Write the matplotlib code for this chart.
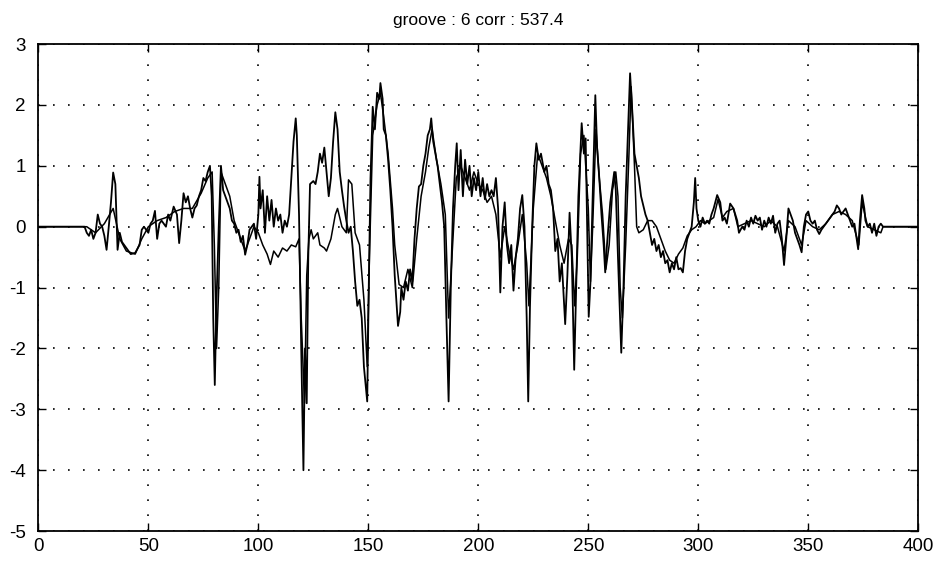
import matplotlib
matplotlib.use("Agg")
import matplotlib.pyplot as plt

# ── Data ───────────────────────────────────────────────────────
groove_x = [0, 21, 22, 23, 24, 25, 26, 27, 28, 29, 30, 31, 32, 33, 34, 35, 36, 37, 38, 40,
            42, 44, 46, 47, 48, 50, 51, 52, 53, 54, 55, 56, 58, 59, 60, 61.5, 63, 64, 65, 66,
            67, 68, 69, 70, 71, 72, 73, 74, 75, 76, 77, 78, 78.8, 79.5, 80.2, 81, 82, 83, 84, 85,
            86, 87, 88, 89, 90, 91, 92, 93, 94, 95, 96, 97, 98, 99, 100, 100.5, 101, 102, 103, 104,
            105, 106, 107, 108, 109, 110, 111, 112, 113, 114, 115, 116, 117, 117.5, 118.5, 119.5, 120.5, 121.2, 122, 122.7,
            123.5, 125, 126, 127, 128, 129, 130, 131, 132, 133, 134, 135, 136, 137, 138, 139, 140, 141, 142, 143,
            144, 145, 146, 147, 148, 149.5, 150.2, 151, 152, 153, 154, 155, 155.5, 156.5, 157, 158, 159, 160, 161, 162,
            163.5, 164.5, 165, 166, 167, 168, 169, 170, 171, 172, 173, 174, 175, 176, 177, 178, 178.6, 179.5, 180.5, 181.5,
            182.5, 183.5, 184.5, 185.5, 186.5, 187.5, 188.5, 189.5, 190.2, 191, 192, 193, 194, 195, 196, 197, 198, 199, 200, 201,
            202, 203, 204, 205, 206, 207, 208, 209, 210, 211, 212, 213, 214, 215, 216, 217, 218, 219, 220, 221,
            222, 222.7, 223.5, 224.5, 225.5, 226.4, 227.5, 228.5, 230, 231, 232, 233, 234, 235, 236, 237, 238, 239.5, 240.5, 241.5,
            242.5, 243.6, 244.5, 245.5, 247, 248, 248.8, 249.5, 250.2, 251, 252, 253.2, 254, 255, 256, 257, 257.7, 258.5, 260, 261.8,
            262.5, 263.5, 265, 266, 267, 268, 269, 270, 271, 272, 273, 274, 275, 276, 277, 278, 279, 280, 281, 282,
            283, 284, 285, 286, 287, 288, 289, 290, 291, 292, 293, 294, 295, 296, 297, 298, 298.6, 299.2, 300, 301,
            302, 303, 304, 305, 306, 307, 308.6, 310, 311, 312, 313, 314.5, 316, 317.7, 318.5, 320, 321, 322, 323, 324,
            325, 326, 327, 328, 329, 330, 331, 332, 333, 334, 335, 336, 337, 338, 339, 340, 341, 342, 343, 344,
            345, 346, 347, 348, 349, 350, 351, 352, 353, 354, 355, 356, 357, 358, 359, 360, 362, 363, 364, 365,
            366, 367, 368, 369, 370, 371, 372, 372.7, 373.5, 374.5, 375.5, 376, 377, 378, 379, 380, 381, 382, 383, 384,
            400]
groove_y = [0, 0, -0.1, -0.15, -0.05, -0.2, -0.1, 0.2, 0.05, 0.0, -0.15, -0.38, 0.0, 0.4, 0.89, 0.7, -0.38, -0.1, -0.25, -0.35,
            -0.45, -0.43, -0.3, -0.05, 0.0, -0.1, 0.05, 0.1, 0.26, -0.2, 0.05, 0.1, 0.0, 0.2, 0.1, 0.33, 0.2, -0.27, 0.1, 0.55,
            0.4, 0.5, 0.3, 0.15, 0.3, 0.35, 0.5, 0.6, 0.8, 0.75, 0.9, 1.0, 0.5, -1.5, -2.6, -1.2, 0.0, 1.0, 0.6, 0.5,
            0.4, 0.3, 0.1, 0.05, -0.1, -0.05, -0.25, -0.15, -0.46, -0.3, -0.05, 0.0, 0.05, -0.2, 0.2, 0.82, 0.3, 0.6, -0.1, 0.5,
            0.1, 0.44, 0.0, 0.3, 0.1, 0.2, -0.1, 0.1, 0.0, 0.2, 0.8, 1.4, 1.78, 1.5, 0.2, -2.0, -4.0, -2.0, -2.9, -0.5,
            0.7, 0.75, 0.7, 0.9, 1.2, 1.05, 1.3, 0.9, 0.5, 0.8, 1.4, 1.88, 1.6, 0.9, 0.6, 0.33, 0.1, -0.1, 0.0, -0.4,
            -0.9, -1.3, -1.2, -1.5, -2.3, -2.87, -1.0, 0.8, 1.97, 1.6, 2.2, 2.1, 2.36, 2.1, 1.6, 1.5, 1.1, 0.6, 0.0, -0.8,
            -1.63, -1.4, -1.0, -1.2, -0.9, -1.05, -0.7, -0.9, -0.2, 0.3, 0.66, 0.7, 1.0, 1.2, 1.5, 1.6, 1.78, 1.4, 1.2, 1.0,
            0.7, 0.4, 0.0, -1.5, -2.87, -1.0, 0.3, 1.0, 1.37, 0.6, 1.26, 0.5, 1.1, 0.7, 1.0, 0.5, 0.8, 0.6, 0.9, 0.5,
            0.8, 0.45, 0.7, 0.5, 0.6, 0.5, 0.8, 0.3, -1.08, 0.0, 0.4, -0.3, -0.6, -0.3, -1.05, -0.5, -0.2, 0.3, 0.52, 0.0,
            -1.5, -2.87, -1.3, 0.0, 1.0, 1.37, 1.1, 1.2, 0.9, 1.0, 0.7, 0.6, 0.3, -0.4, -0.2, -0.9, -0.6, -1.6, -0.8, 0.23,
            -0.5, -2.35, -1.0, 0.5, 1.7, 1.2, 1.45, 0.0, -1.48, -0.9, 0.5, 2.16, 1.3, 0.8, 0.2, -0.3, -0.75, -0.3, 0.4, 0.9,
            0.6, -0.5, -2.07, -1.0, 0.5, 1.5, 2.52, 1.9, 1.2, 1.0, 0.8, 0.5, 0.35, 0.2, 0.1, -0.1, -0.3, -0.2, -0.4, -0.3,
            -0.5, -0.4, -0.6, -0.55, -0.75, -0.6, -0.7, -0.5, -0.7, -0.68, -0.75, -0.4, -0.2, -0.1, 0.0, 0.4, 0.8, 0.3, 0.1, 0.0,
            0.15, 0.05, 0.1, 0.05, 0.2, 0.3, 0.52, 0.4, 0.1, 0.15, 0.05, 0.38, 0.3, 0.1, -0.1, 0.0, -0.05, 0.1, 0.0, 0.15,
            0.05, 0.18, 0.1, 0.15, -0.05, 0.1, 0.0, 0.15, 0.05, 0.18, -0.1, 0.05, 0.1, -0.2, -0.63, -0.2, 0.3, 0.2, 0.1, -0.1,
            -0.2, -0.3, -0.42, 0.0, 0.2, 0.25, 0.1, 0.05, 0.1, -0.05, -0.12, -0.05, 0.0, 0.05, 0.1, 0.15, 0.25, 0.35, 0.3, 0.2,
            0.25, 0.3, 0.2, 0.1, 0.0, 0.05, -0.2, -0.37, 0.1, 0.52, 0.3, 0.1, 0.0, 0.05, -0.1, 0.05, -0.15, 0.0, 0.05, 0,
            0]

ref_x = [0, 22, 26, 30, 34, 37, 40, 44, 47, 50, 54, 58, 62, 66, 70, 74, 77, 79, 80, 81,
         82, 83, 85, 87, 89, 92, 94, 96, 98, 100, 102, 104, 105.5, 107, 109, 111, 113, 115, 117, 118.5,
         119.5, 121, 122, 123, 124, 125, 127, 128, 130, 131, 133, 135, 136, 138, 140, 141, 142.5, 144, 146, 148,
         149.5, 150.5, 152, 154, 155.5, 157, 159, 161, 162, 164, 166, 168, 170, 172, 174, 176, 177.5, 179, 181, 183,
         185, 186.5, 188, 190, 192, 194, 196, 198, 200, 202, 204, 206, 208, 210, 212, 214, 216, 218, 220, 222,
         223, 225, 227, 229, 231, 233, 235, 237, 239, 241, 242.5, 243.8, 245, 246.5, 248, 250, 251, 252, 253.5, 255,
         256.5, 258, 259.5, 261, 262.5, 263.5, 264.5, 265.5, 267, 268.5, 269.5, 271, 272, 273, 275, 277, 279, 281, 283, 285,
         287, 289, 291, 293, 295, 297, 299, 301, 303, 305, 307, 309, 311, 313, 316, 318, 321, 324, 327, 330,
         333, 336, 339, 341, 344, 347, 349, 352, 355, 358, 361, 364, 367, 370, 373, 374.5, 377, 380, 383, 384,
         400]
ref_y = [0, 0, -0.1, 0.05, 0.3, -0.2, -0.4, -0.45, -0.2, 0.0, 0.1, 0.15, 0.25, 0.3, 0.3, 0.55, 0.8, 0.9, -0.3, -2.0,
         -1.0, 0.9, 0.7, 0.5, 0.1, -0.2, -0.4, -0.2, 0.0, -0.1, -0.3, -0.45, -0.62, -0.4, -0.5, -0.35, -0.4, -0.3, -0.33, -0.2,
         -1.5, -2.9, -0.8, -0.2, -0.05, -0.2, -0.1, -0.3, -0.35, -0.4, -0.2, 0.2, 0.3, 0.0, -0.1, 0.77, 0.7, -0.1, -0.3, -1.2,
         -2.3, -0.5, 1.5, 2.0, 2.2, 1.8, 1.2, 0.3, -0.3, -0.95, -1.0, -0.7, -1.0, -0.2, 0.5, 0.9, 1.3, 1.6, 1.1, 0.7,
         0.2, -1.5, -0.5, 0.8, 1.0, 0.8, 0.6, 0.9, 0.7, 0.6, 0.4, 0.5, 0.2, -0.5, 0.0, -0.4, -0.7, -0.3, 0.2, -0.6,
         -1.3, 0.3, 1.2, 1.0, 0.8, 0.5, 0.1, -0.3, -0.6, -0.2, -0.3, -1.3, -0.5, 1.2, 1.5, 0.3, -0.9, 0.0, 1.6, 0.8,
         0.2, -0.7, -0.3, 0.6, 0.9, 0.5, -1.0, -1.5, -0.3, 1.2, 2.3, 1.0, 0.0, -0.1, -0.05, 0.1, 0.1, 0.0, -0.2, -0.4,
         -0.55, -0.6, -0.45, -0.35, -0.15, -0.05, 0.0, 0.1, 0.05, 0.1, 0.15, 0.45, 0.15, 0.25, 0.3, 0.0, 0.05, 0.1, 0.05, 0.0,
         0.1, 0.0, -0.4, 0.1, 0.0, -0.3, 0.1, 0.0, -0.05, 0.05, 0.2, 0.25, 0.2, 0.1, -0.3, 0.4, 0.0, -0.05, -0.1, 0,
         0]

x_ticks = list(range(0, 401, 50))
y_ticks = list(range(-5, 4))
title = "groove : 6 corr : 537.4"

# ── Plot ───────────────────────────────────────────────────────
plt.rcParams["font.family"] = ["Liberation Sans", "DejaVu Sans"]
plt.rcParams["axes.unicode_minus"] = False  # plain hyphen like the MATLAB original

fig = plt.figure(figsize=(9.36, 5.65), dpi=100)
ax = fig.add_axes([0.041, 0.060, 0.940, 0.862])

ax.plot(ref_x, ref_y, color="black", linewidth=1.1)
ax.plot(groove_x, groove_y, color="black", linewidth=1.3)

ax.set_xlim(0, 400)
ax.set_ylim(-5, 3)
ax.set_xticks(x_ticks)
ax.set_yticks(y_ticks)
ax.grid(True, color="black", linestyle=(0, (1, 8)), linewidth=1.2)
ax.tick_params(direction="in", length=6, width=1, top=True, right=True,
               labelsize=13.5)
ax.tick_params(axis="y", pad=9)
ax.tick_params(axis="x", pad=5)
for s in ax.spines.values():
    s.set_linewidth(1.3)
ax.set_title(title, fontsize=12.5, pad=14)

fig.savefig("out.png", dpi=100)
